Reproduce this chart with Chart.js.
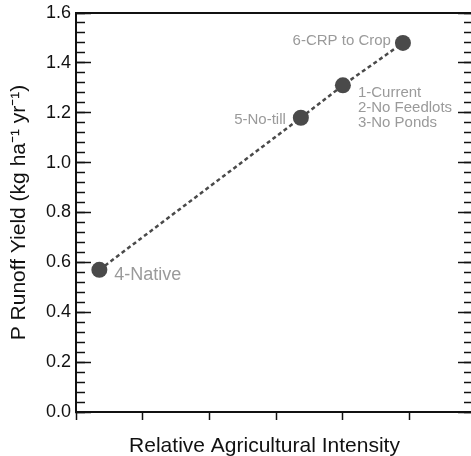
<!DOCTYPE html>
<html lang="en">
<head>
    <meta charset="UTF-8">
    <title>P Runoff Yield vs Relative Agricultural Intensity</title>
    <script src="https://cdn.jsdelivr.net/npm/chart.js"></script>
    <style>
        html, body { margin: 0; padding: 0; background: #fff; overflow: hidden; }
        #wrap { width: 490px; height: 456px; }
    </style>
</head>
<body>
    <div id="wrap"><canvas id="runoffChart" width="490" height="456"></canvas></div>

    <script>
        // scenario data
        const scenarioLabels = [
            ['4-Native'],
            ['5-No-till'],
            ['1-Current', '2-No Feedlots', '3-No Ponds'],
            ['6-CRP to Crop']
        ];
        const intensity = [0.35, 3.37, 4.0, 4.9];
        const pYield = [0.57, 1.18, 1.31, 1.48];

        const xTitle = 'Relative Agricultural Intensity';
        const yTitle = 'P Runoff Yield (kg ha\u207B\u00B9 yr\u207B\u00B9)';

        const yMajorStep = 0.2;
        const yMinorStep = 0.04;
        const yMax = 1.6;
        const xMax = 5.95;

        const FONT = "'Liberation Sans', Arial, sans-serif";
        const INK = '#111';
        const MARK = '#4a4a4a';
        const LABEL_GREY = '#9a9a9a';

        // offsets of each label from its point (dx, dy of first baseline, align, font size)
        const labelPlacement = [
            { dx: 15, dy: 10, align: 'left', size: 18 },
            { dx: -15, dy: 6, align: 'right', size: 15 },
            { dx: 15, dy: 12, align: 'left', size: 15 },
            { dx: -12, dy: 2, align: 'right', size: 15 }
        ];

        const pointLabels = {
            id: 'pointLabels',
            afterDatasetsDraw(chart) {
                const ctx = chart.ctx;
                const pts = chart.getDatasetMeta(0).data;
                ctx.save();
                ctx.fillStyle = LABEL_GREY;
                ctx.textBaseline = 'alphabetic';
                scenarioLabels.forEach((lines, i) => {
                    const p = labelPlacement[i];
                    ctx.font = p.size + 'px ' + FONT;
                    ctx.textAlign = p.align;
                    lines.forEach((line, j) => {
                        ctx.fillText(line, pts[i].x + p.dx, pts[i].y + p.dy + j * 14.7);
                    });
                });
                // x axis title sits a little left of the axis centre in the original
                const area = chart.chartArea;
                ctx.fillStyle = INK;
                ctx.font = '21px ' + FONT;
                ctx.textAlign = 'center';
                ctx.fillText(xTitle, (area.left + area.right) / 2 - 10, 452);
                ctx.restore();
            }
        };

        const points = intensity.map((x, i) => ({ x: x, y: pYield[i] }));

        function yAxis(position, step, tickLen, labels, weight) {
            return {
                type: 'linear',
                position: position,
                min: 0,
                max: yMax,
                weight: weight,
                grid: {
                    drawOnChartArea: false,
                    drawTicks: true,
                    tickLength: tickLen,
                    tickColor: INK,
                    tickWidth: 1.5
                },
                border: { display: false },
                ticks: {
                    stepSize: step,
                    maxTicksLimit: 100,
                    display: labels,
                    padding: 20,
                    color: INK,
                    font: { family: FONT, size: 18 },
                    callback: v => v.toFixed(1)
                },
                afterFit: s => { s.width = 0; s.paddingTop = 0; s.paddingBottom = 0; }
            };
        }

        const scales = {
            x: {
                type: 'linear',
                position: 'bottom',
                min: 0,
                max: xMax,
                grid: {
                    drawOnChartArea: false,
                    tickLength: 8,
                    tickColor: INK,
                    tickWidth: 1.5
                },
                border: { display: true, color: INK, width: 2 },
                ticks: { stepSize: 1, includeBounds: false, display: false },
                afterFit: s => { s.height = 44; s.paddingLeft = 0; s.paddingRight = 0; }
            },
            xTop: {
                type: 'linear',
                position: 'top',
                min: 0,
                max: xMax,
                grid: { drawOnChartArea: false, drawTicks: false },
                border: { display: true, color: INK, width: 2 },
                ticks: { display: false },
                afterFit: s => { s.height = 0; s.paddingLeft = 0; s.paddingRight = 0; }
            },
            y: yAxis('left', yMajorStep, -15, true, 1),
            yMinor: yAxis('left', yMinorStep, -9, false, 0),
            yRight: yAxis('right', yMajorStep, -15, false, 1),
            yRightMinor: yAxis('right', yMinorStep, -9, false, 0)
        };
        scales.y.border = { display: true, color: INK, width: 2 };
        scales.y.title = {
            display: true,
            text: yTitle,
            color: INK,
            font: { family: FONT, size: 21 },
            padding: { top: 7, bottom: 0 }
        };
        scales.y.afterFit = s => { s.width = 76; s.paddingTop = 0; s.paddingBottom = 0; };

        new Chart(document.getElementById('runoffChart'), {
            type: 'scatter',
            data: {
                datasets: [{
                    data: points,
                    showLine: true,
                    borderColor: MARK,
                    borderWidth: 2.5,
                    borderDash: [4, 3],
                    pointRadius: 8,
                    pointHoverRadius: 8,
                    pointBackgroundColor: MARK,
                    pointBorderColor: MARK,
                    pointBorderWidth: 0
                }]
            },
            options: {
                responsive: false,
                animation: false,
                layout: { padding: { left: 0, top: 13, right: 17, bottom: 0 } },
                scales: scales,
                plugins: {
                    legend: { display: false },
                    tooltip: { enabled: false }
                }
            },
            plugins: [pointLabels]
        });
    </script>
</body>
</html>
